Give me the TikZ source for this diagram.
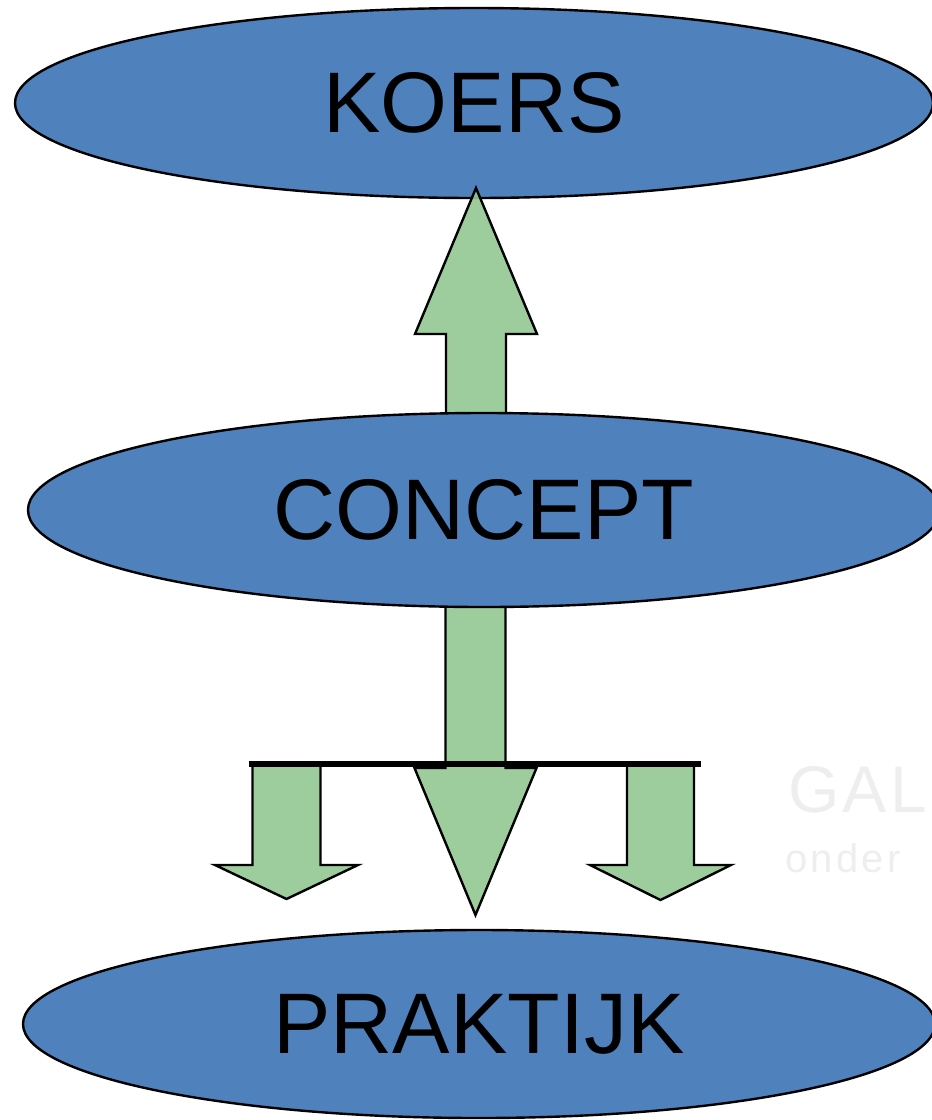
\documentclass[tikz,border=0pt]{standalone}
\usepackage{fontspec}
\setmainfont{Liberation Sans}
\usetikzlibrary{shapes.geometric}
\definecolor{ovalblue}{RGB}{79,129,189}
\definecolor{arrowgreen}{RGB}{146,200,146}
\tikzset{
  oval/.style={ellipse, draw=black, line width=1.2pt, fill=ovalblue, inner sep=0pt,
    font=\fontsize{43}{50}\selectfont},
  blockarrow/.style={draw=black, line width=1.2pt, line join=miter, fill=arrowgreen, fill opacity=0.9},
  watermark/.style={text=gray!13, inner sep=0pt}
}
% x, y of base, shaft half width, head half width, shaft length, head length
\newcommand\greenarrow[6]{%
  \draw[blockarrow] ({#1-#3}, #2) -- ({#1-#3}, {#2+(#5)}) -- ({#1-#4}, {#2+(#5)})
    -- (#1, {#2+(#5)+(#6)}) -- ({#1+#4}, {#2+(#5)}) -- ({#1+#3}, {#2+(#5)}) -- ({#1+#3}, #2) -- cycle
}

\begin{document}
\begin{tikzpicture}[x=0.5pt, y=-0.5pt]
        \useasboundingbox (0, 0) rectangle (932, 1120);
        \clip (0, 0) rectangle (932, 1120);

        % Background logo
        \node[watermark, anchor=base west, font=\fontsize{33}{40}\selectfont\addfontfeature{LetterSpace=5}]
          (logo) at (788, 812) {GAL};
        \node[watermark, anchor=base west, font=\fontsize{20}{24}\selectfont\addfontfeature{LetterSpace=8}]
          (logosub) at (785, 872) {onder};

        % Top oval
        \node[oval, minimum width=459pt, minimum height=95pt] (koers) at (474, 103) {KOERS};

        % The arrows from the middle
        \greenarrow{476}{416}{30}{61}{-82}{-146};
        \greenarrow{475.5}{600}{30}{61}{168}{147};
        \greenarrow{286.5}{765}{34}{71.5}{100}{34};
        \greenarrow{660.5}{765}{33.5}{70.5}{100}{35};

        % Middle oval
        \node[oval, minimum width=456pt, minimum height=97pt] (concept) at (484, 510) {CONCEPT};

        % Split bar
        \draw[line width=3.2pt] (249, 764) -- (701, 764);

        % Bottom oval
        \node[oval, minimum width=456pt, minimum height=94pt] (praktijk) at (479, 1024) {PRAKTIJK};
    \end{tikzpicture}
\end{document}
